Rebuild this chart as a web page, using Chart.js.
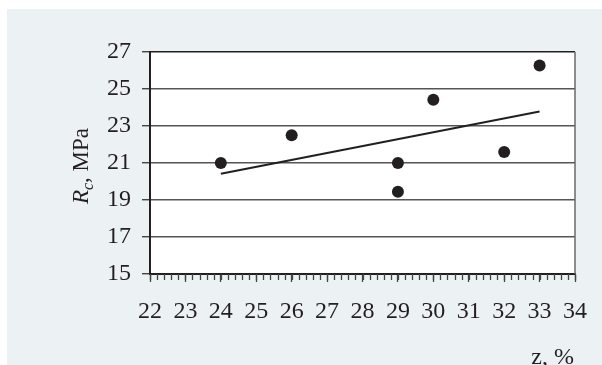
<!DOCTYPE html>
<html>
<head>
<meta charset="utf-8">
<script src="https://cdn.jsdelivr.net/npm/chart.js@4.4.1/dist/chart.umd.min.js"></script>
<style>
  html, body { margin: 0; padding: 0; background: #fff; }
  #wrap { width: 602px; height: 365px; }
</style>
</head>
<body>
<div id="wrap"><canvas id="rcChart" width="602" height="365"></canvas></div>
<script>
/* measured points: z (%) vs compressive strength Rc (MPa) */
const zPoints  = [24, 26, 29, 29, 30, 32, 33];
const rcPoints = [21.0, 22.5, 21.0, 19.45, 24.42, 21.6, 26.27];

/* trend line ends */
const trendZ  = [24, 33];
const trendRc = [20.42, 23.78];

const xTickLabels = [22, 23, 24, 25, 26, 27, 28, 29, 30, 31, 32, 33, 34];
const yTickLabels = [15, 17, 19, 21, 23, 25, 27];

const INK   = '#231f20';
const GRID  = '#555555';
const PANEL = '#ecf1f4';
const SERIF = "Liberation Serif, Times New Roman, serif";

/* panel background, white plot area, minor ticks, right border, axis titles */
const framePlugin = {
  id: 'frame',
  beforeDraw(chart) {
    const { ctx, chartArea: a, width, height } = chart;
    ctx.save();
    ctx.fillStyle = '#fff';
    ctx.fillRect(0, 0, width, height);
    ctx.fillStyle = PANEL;
    ctx.fillRect(7, 9, width - 7, height - 9);
    ctx.fillStyle = '#fff';
    ctx.fillRect(a.left, a.top, a.right - a.left, a.bottom - a.top);
    ctx.restore();
  },
  afterDraw(chart) {
    const { ctx, chartArea: a } = chart;
    const xs = chart.scales.x;
    ctx.save();

    // minor ticks every 0.2 under the x axis
    ctx.strokeStyle = '#444';
    ctx.lineWidth = 1.3;
    ctx.beginPath();
    for (let i = 0; i <= (xs.max - xs.min) * 5; i++) {
      const px = Math.round(xs.getPixelForValue(xs.min + i * 0.2)) + 0.5;
      ctx.moveTo(px, a.bottom);
      ctx.lineTo(px, a.bottom + 6);
    }
    ctx.stroke();

    // right border
    ctx.strokeStyle = '#6a6a6a';
    ctx.lineWidth = 1.5;
    ctx.beginPath();
    ctx.moveTo(a.right, a.top);
    ctx.lineTo(a.right, a.bottom);
    ctx.stroke();

    // y title: R_c, MPa
    ctx.fillStyle = INK;
    ctx.textBaseline = 'alphabetic';
    ctx.textAlign = 'left';
    const parts = [
      { t: 'R',     f: 'italic 23px ' + SERIF, dy: 0 },
      { t: 'c',     f: 'italic 16px ' + SERIF, dy: 5 },
      { t: ', MPa', f: '23px ' + SERIF,        dy: 0 }
    ];
    let total = 0;
    parts.forEach(p => { ctx.font = p.f; p.w = ctx.measureText(p.t).width; total += p.w; });
    ctx.translate(88, 166);
    ctx.rotate(-Math.PI / 2);
    let cx = -total / 2;
    parts.forEach(p => { ctx.font = p.f; ctx.fillText(p.t, cx, p.dy); cx += p.w; });
    ctx.setTransform(1, 0, 0, 1, 0, 0);

    // x title: z, %
    ctx.font = '24px ' + SERIF;
    ctx.textAlign = 'right';
    ctx.fillText('z, %', 574, 364);
    ctx.restore();
  }
};

new Chart(document.getElementById('rcChart'), {
  type: 'scatter',
  data: {
    datasets: [
      {
        label: 'Rc',
        data: zPoints.map((z, i) => ({ x: z, y: rcPoints[i] })),
        backgroundColor: INK,
        borderWidth: 0,
        pointRadius: 6,
        pointHoverRadius: 6
      },
      {
        label: 'trend',
        data: trendZ.map((z, i) => ({ x: z, y: trendRc[i] })),
        showLine: true,
        borderColor: INK,
        borderWidth: 2,
        pointRadius: 0,
        fill: false
      }
    ]
  },
  options: {
    responsive: false,
    animation: false,
    layout: { padding: { top: 52, right: 23, left: 0, bottom: 0 } },
    plugins: {
      legend: { display: false },
      tooltip: { enabled: false }
    },
    scales: {
      x: {
        type: 'linear',
        min: 22, max: 34,
        afterBuildTicks: s => { s.ticks = xTickLabels.map(v => ({ value: v })); },
        afterFit: s => { s.height = 91; },
        border: { display: true, color: INK, width: 2 },
        grid: { drawOnChartArea: false, drawTicks: true, tickLength: 8, tickColor: '#444', tickWidth: 1.3 },
        ticks: {
          color: INK,
          font: { family: SERIF, size: 24 },
          padding: 15,
          maxRotation: 0,
          autoSkip: false
        }
      },
      y: {
        min: 15, max: 27,
        afterBuildTicks: s => { s.ticks = yTickLabels.map(v => ({ value: v })); },
        afterFit: s => { s.width = 150; },
        border: { display: true, color: INK, width: 2 },
        grid: {
          color: c => (c.tick && c.tick.value === 27 ? INK : GRID),
          lineWidth: 1.4,
          tickLength: 8,
          tickColor: '#444'
        },
        ticks: {
          color: INK,
          font: { family: SERIF, size: 24 },
          padding: 11
        }
      }
    }
  },
  plugins: [framePlugin]
});
</script>
</body>
</html>
